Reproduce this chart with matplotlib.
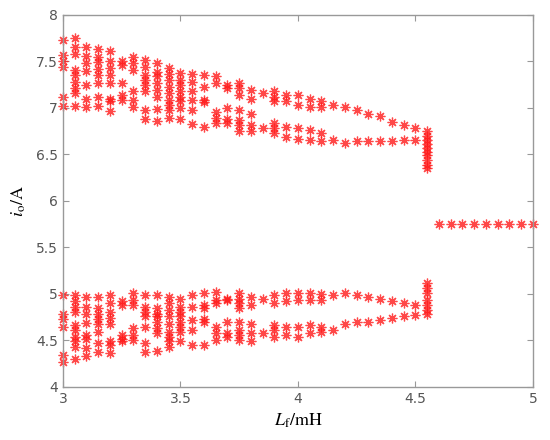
import numpy as np
import matplotlib.pyplot as plt

plt.rcParams['mathtext.fontset'] = 'stix'

# filter inductance sweep (mH)
Lf = [3.00, 3.05, 3.10, 3.15, 3.20, 3.25, 3.30, 3.35, 3.40, 3.45, 3.50,
      3.55, 3.60, 3.65, 3.70, 3.75, 3.80, 3.85, 3.90, 3.95, 4.00, 4.05,
      4.10, 4.15, 4.20, 4.25, 4.30, 4.35, 4.40, 4.45, 4.50, 4.55]

# sampled output current, upper band (A)
io_upper = [
    [7.73, 7.57, 7.50, 7.44, 7.12, 7.02],
    [7.75, 7.66, 7.58, 7.41, 7.35, 7.28, 7.21, 7.16, 7.02],
    [7.66, 7.56, 7.48, 7.40, 7.25, 7.10, 7.01],
    [7.63, 7.55, 7.49, 7.42, 7.35, 7.27, 7.12, 7.02],
    [7.61, 7.50, 7.43, 7.35, 7.27, 7.10, 7.07, 6.97],
    [7.50, 7.46, 7.27, 7.14, 7.09],
    [7.55, 7.48, 7.41, 7.18, 7.09, 7.01],
    [7.52, 7.44, 7.35, 7.30, 7.25, 7.18, 6.98, 6.88],
    [7.48, 7.39, 7.34, 7.27, 7.19, 7.12, 6.99, 6.86],
    [7.43, 7.37, 7.30, 7.23, 7.16, 7.09, 7.03, 6.98, 6.89],
    [7.38, 7.30, 7.25, 7.18, 7.12, 7.07, 7.00, 6.88],
    [7.37, 7.28, 7.18, 7.09, 6.98, 6.83],
    [7.35, 7.23, 7.09, 7.06, 6.80],
    [7.34, 7.27, 6.96, 6.89, 6.84],
    [7.25, 7.21, 7.00, 6.88, 6.84],
    [7.27, 7.21, 7.14, 6.98, 6.87, 6.82, 6.75],
    [7.19, 7.10, 6.94, 6.82, 6.75],
    [7.16, 6.78],
    [7.18, 7.12, 7.07, 6.84, 6.78, 6.73],
    [7.14, 7.07, 6.80, 6.69],
    [7.14, 7.03, 6.78, 6.67],
    [7.10, 7.01, 6.76, 6.66],
    [7.07, 7.01, 6.73, 6.64],
    [7.03, 6.66],
    [7.01, 6.62],
    [6.98, 6.64],
    [6.94, 6.64],
    [6.91, 6.65],
    [6.85, 6.65],
    [6.82, 6.66],
    [6.78, 6.66],
    [6.75, 6.70, 6.66, 6.61, 6.57, 6.53, 6.49, 6.44, 6.39, 6.35],
]

# sampled output current, lower band (A)
io_lower = [
    [4.99, 4.79, 4.73, 4.65, 4.34, 4.27],
    [4.99, 4.92, 4.86, 4.81, 4.67, 4.61, 4.54, 4.49, 4.43, 4.30],
    [4.97, 4.86, 4.79, 4.69, 4.56, 4.52, 4.42, 4.33],
    [4.97, 4.85, 4.79, 4.73, 4.68, 4.59, 4.47, 4.38],
    [4.99, 4.90, 4.81, 4.74, 4.68, 4.49, 4.45, 4.37],
    [4.92, 4.88, 4.56, 4.52, 4.49],
    [5.01, 4.94, 4.88, 4.63, 4.56, 4.51],
    [4.99, 4.86, 4.81, 4.76, 4.65, 4.47, 4.38],
    [4.99, 4.85, 4.79, 4.76, 4.70, 4.63, 4.58, 4.39],
    [4.97, 4.90, 4.83, 4.76, 4.68, 4.59, 4.54, 4.49, 4.43],
    [4.95, 4.86, 4.81, 4.76, 4.70, 4.65, 4.59, 4.49],
    [4.99, 4.86, 4.72, 4.61, 4.45],
    [5.01, 4.88, 4.85, 4.73, 4.70, 4.45],
    [5.02, 4.94, 4.90, 4.65, 4.58, 4.51],
    [4.95, 4.94, 4.70, 4.58, 4.54],
    [5.01, 4.95, 4.90, 4.85, 4.70, 4.61, 4.56, 4.51],
    [4.97, 4.88, 4.68, 4.58, 4.49],
    [4.95, 4.58],
    [4.99, 4.90, 4.67, 4.61, 4.54],
    [5.01, 4.92, 4.65, 4.56],
    [5.01, 4.94, 4.65, 4.54],
    [5.01, 4.93, 4.67, 4.58],
    [5.00, 4.94, 4.65, 4.59],
    [4.99, 4.61],
    [5.01, 4.68],
    [4.99, 4.70],
    [4.97, 4.70],
    [4.95, 4.72],
    [4.92, 4.74],
    [4.90, 4.76],
    [4.88, 4.77],
    [5.12, 5.06, 5.01, 4.94, 4.88, 4.83, 4.79],
]

# period-1 region
Lf_stable = [4.60, 4.65, 4.70, 4.75, 4.80, 4.85, 4.90, 4.95, 5.00]
io_stable = [5.75, 5.75, 5.75, 5.75, 5.75, 5.75, 5.75, 5.75, 5.75]

xs, ys = [], []
for x, up, lo in zip(Lf, io_upper, io_lower):
    for v in up + lo:
        xs.append(x)
        ys.append(v)
xs += Lf_stable
ys += io_stable

fig = plt.figure(figsize=(5.5, 4.4), dpi=100)
ax = fig.add_axes([0.1145, 0.1205, 0.8545, 0.8455])

ax.plot(xs, ys, linestyle='none', marker=(8, 2, 0), markersize=7,
        markeredgewidth=0.9, color='#ff1a1a', alpha=0.8, clip_on=False)

ax.set_xlim(3, 5)
ax.set_ylim(4, 8)
ax.set_xticks([3, 3.5, 4, 4.5, 5])
ax.set_xticklabels(['3', '3.5', '4', '4.5', '5'])
ax.set_yticks(np.arange(4, 8.01, 0.5))
ax.set_yticklabels(['4', '4.5', '5', '5.5', '6', '6.5', '7', '7.5', '8'])

for s in ax.spines.values():
    s.set_color('#999999')
    s.set_linewidth(1.0)
ax.tick_params(direction='in', length=4, width=0.8, color='#999999',
               labelcolor='#555555', labelsize=10, top=True, right=True)

ax.set_xlabel(r'$L_\mathrm{f}$/mH', fontsize=13, family='STIXGeneral', labelpad=4)
ax.set_ylabel(r'$i_\mathrm{o}$/A', fontsize=13, family='STIXGeneral', labelpad=6)

plt.savefig('out.png', dpi=100)
